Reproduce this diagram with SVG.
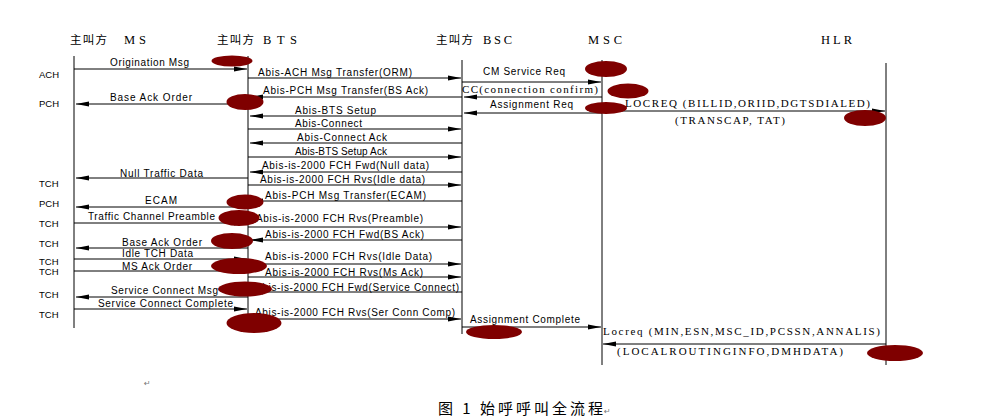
<svg xmlns="http://www.w3.org/2000/svg" width="997" height="420" viewBox="0 0 997 420">
<style>
.hdr{font-family:"Liberation Serif","Noto Sans CJK SC",serif;font-size:12.5px;fill:#000}
.cjk{font-family:"Noto Sans CJK SC","Liberation Serif",sans-serif;font-size:11.5px;fill:#000}
.ll{stroke:#000;stroke-width:1;fill:none}
.msg{stroke:#000;stroke-width:1;fill:none}
.arr{marker-end:url(#ah)}
.lbl{font-family:"Liberation Sans",Arial,sans-serif;font-size:10px;fill:#000}
.ser{font-family:"Liberation Serif","Times New Roman",serif;font-size:11px;fill:#000}
.ch{font-family:"Liberation Sans",Arial,sans-serif;font-size:9.5px;fill:#000}
.blob{fill:#7f0000}
.cap{font-family:"Noto Sans CJK SC","Liberation Sans",sans-serif;font-size:15px;fill:#000}
.pm{font-family:"DejaVu Sans",sans-serif;font-size:8px;fill:#777}
</style>
<defs>
<marker id="ah" markerUnits="userSpaceOnUse" markerWidth="13" markerHeight="6" refX="13" refY="3" orient="auto">
<path d="M0,0.5 L13,3 L0,5.5 Z" fill="#000"/>
</marker>
</defs>
<rect width="997" height="420" fill="#fff"/>

<g id="node-ms">
<text class="cjk" x="70" y="44" textLength="37" lengthAdjust="spacing">主叫方</text>
<text class="hdr" x="124" y="44" textLength="22" lengthAdjust="spacing">MS</text>
<line class="ll" x1="74" y1="56" x2="74" y2="328"/>
</g>
<g id="node-bts">
<text class="cjk" x="217" y="44" textLength="37" lengthAdjust="spacing">主叫方</text>
<text class="hdr" x="263" y="44" textLength="34" lengthAdjust="spacing">BTS</text>
<line class="ll" x1="248" y1="56" x2="248" y2="332"/>
</g>
<g id="node-bsc">
<text class="cjk" x="436" y="44" textLength="37" lengthAdjust="spacing">主叫方</text>
<text class="hdr" x="483" y="44" textLength="29" lengthAdjust="spacing">BSC</text>
<line class="ll" x1="462" y1="60" x2="462" y2="334"/>
</g>
<g id="node-msc">
<text class="hdr" x="588" y="44" textLength="34" lengthAdjust="spacing">MSC</text>
<line class="ll" x1="602" y1="60" x2="602" y2="365"/>
</g>
<g id="node-hlr">
<text class="hdr" x="821" y="44" textLength="31" lengthAdjust="spacing">HLR</text>
<line class="ll" x1="886" y1="63" x2="886" y2="365"/>
</g>

<g id="channels">
<text class="ch" x="39" y="78">ACH</text>
<text class="ch" x="39" y="107">PCH</text>
<text class="ch" x="39" y="187">TCH</text>
<text class="ch" x="39" y="207">PCH</text>
<text class="ch" x="39" y="227">TCH</text>
<text class="ch" x="39" y="247">TCH</text>
<text class="ch" x="39" y="265">TCH</text>
<text class="ch" x="39" y="275">TCH</text>
<text class="ch" x="39" y="298">TCH</text>
<text class="ch" x="39" y="318">TCH</text>
</g>

<g id="connectors">
<line class="msg arr" x1="74" y1="69" x2="247" y2="69"/>
<text class="lbl" x="110" y="66" textLength="79" lengthAdjust="spacing">Origination Msg</text>
<line class="msg arr" x1="248" y1="104" x2="76" y2="104"/>
<text class="lbl" x="110" y="101" textLength="82" lengthAdjust="spacing">Base Ack Order</text>
<line class="msg arr" x1="248" y1="178" x2="76" y2="178"/>
<text class="lbl" x="120" y="177" textLength="83" lengthAdjust="spacing">Null Traffic Data</text>
<line class="msg arr" x1="248" y1="207" x2="76" y2="207"/>
<text class="lbl" x="145" y="204" textLength="32" lengthAdjust="spacing">ECAM</text>
<line class="msg arr" x1="74" y1="223" x2="247" y2="223"/>
<text class="lbl" x="88" y="220" textLength="127" lengthAdjust="spacing">Traffic Channel Preamble</text>
<line class="msg arr" x1="248" y1="248" x2="76" y2="248"/>
<text class="lbl" x="122" y="246" textLength="80" lengthAdjust="spacing">Base Ack Order</text>
<line class="msg arr" x1="74" y1="259" x2="247" y2="259"/>
<text class="lbl" x="122" y="257" textLength="71" lengthAdjust="spacing">Idle TCH Data</text>
<line class="msg arr" x1="74" y1="271" x2="247" y2="271"/>
<text class="lbl" x="122" y="270" textLength="70" lengthAdjust="spacing">MS Ack Order</text>
<line class="msg arr" x1="248" y1="297" x2="76" y2="297"/>
<text class="lbl" x="111" y="294" textLength="107" lengthAdjust="spacing">Service Connect Msg</text>
<line class="msg arr" x1="74" y1="309" x2="247" y2="309"/>
<text class="lbl" x="98" y="307" textLength="135" lengthAdjust="spacing">Service Connect Complete</text>

<line class="msg arr" x1="248" y1="78" x2="461" y2="78"/>
<text class="lbl" x="258" y="76" textLength="154" lengthAdjust="spacing">Abis-ACH Msg Transfer(ORM)</text>
<line class="msg arr" x1="462" y1="97" x2="250" y2="97"/>
<text class="lbl" x="263" y="94" textLength="165" lengthAdjust="spacing">Abis-PCH Msg Transfer(BS Ack)</text>
<line class="msg arr" x1="462" y1="116" x2="250" y2="116"/>
<text class="lbl" x="295" y="114" textLength="81" lengthAdjust="spacing">Abis-BTS Setup</text>
<line class="msg arr" x1="248" y1="129" x2="461" y2="129"/>
<text class="lbl" x="295" y="127" textLength="67" lengthAdjust="spacing">Abis-Connect</text>
<line class="msg arr" x1="462" y1="143" x2="250" y2="143"/>
<text class="lbl" x="297" y="141" textLength="90" lengthAdjust="spacing">Abis-Connect Ack</text>
<line class="msg arr" x1="248" y1="157" x2="461" y2="157"/>
<text class="lbl" x="295" y="155" textLength="92" lengthAdjust="spacing">Abis-BTS Setup Ack</text>
<line class="msg arr" x1="462" y1="172" x2="250" y2="172"/>
<text class="lbl" x="262" y="169" textLength="167" lengthAdjust="spacing">Abis-is-2000 FCH Fwd(Null data)</text>
<line class="msg arr" x1="248" y1="185" x2="461" y2="185"/>
<text class="lbl" x="260" y="183" textLength="165" lengthAdjust="spacing">Abis-is-2000 FCH Rvs(Idle data)</text>
<line class="msg arr" x1="462" y1="201" x2="250" y2="201"/>
<text class="lbl" x="265" y="199" textLength="161" lengthAdjust="spacing">Abis-PCH Msg Transfer(ECAM)</text>
<line class="msg arr" x1="248" y1="227" x2="461" y2="227"/>
<text class="lbl" x="256" y="222" textLength="167" lengthAdjust="spacing">Abis-is-2000 FCH Rvs(Preamble)</text>
<line class="msg arr" x1="462" y1="240" x2="250" y2="240"/>
<text class="lbl" x="265" y="238" textLength="159" lengthAdjust="spacing">Abis-is-2000 FCH Fwd(BS Ack)</text>
<line class="msg arr" x1="248" y1="264" x2="461" y2="264"/>
<text class="lbl" x="265" y="260" textLength="167" lengthAdjust="spacing">Abis-is-2000 FCH Rvs(Idle Data)</text>
<line class="msg arr" x1="248" y1="277" x2="461" y2="277"/>
<text class="lbl" x="265" y="276" textLength="158" lengthAdjust="spacing">Abis-is-2000 FCH Rvs(Ms Ack)</text>
<line class="msg arr" x1="462" y1="292" x2="250" y2="292"/>
<text class="lbl" x="255" y="291" textLength="204" lengthAdjust="spacing">Abis-is-2000 FCH Fwd(Service Connect)</text>
<line class="msg arr" x1="248" y1="319" x2="461" y2="319"/>
<text class="lbl" x="255" y="316" textLength="200" lengthAdjust="spacing">Abis-is-2000 FCH Rvs(Ser Conn Comp)</text>

<line class="msg arr" x1="462" y1="82" x2="601" y2="82"/>
<text class="lbl" x="483" y="75" textLength="82" lengthAdjust="spacing">CM Service Req</text>
<line class="msg arr" x1="602" y1="97" x2="464" y2="97"/>
<text class="ser" x="462" y="93" textLength="136" lengthAdjust="spacing">CC(connection confirm)</text>
<line class="msg arr" x1="602" y1="113" x2="464" y2="113"/>
<text class="lbl" x="490" y="108" textLength="83" lengthAdjust="spacing">Assignment Req</text>
<line class="msg arr" x1="462" y1="327" x2="601" y2="327"/>
<text class="lbl" x="470" y="323" textLength="110" lengthAdjust="spacing">Assignment Complete</text>

<line class="msg arr" x1="602" y1="111" x2="885" y2="111"/>
<text class="ser" x="625" y="107" textLength="245" lengthAdjust="spacing">LOCREQ (BILLID,ORIID,DGTSDIALED)</text>
<text class="ser" x="675" y="124" textLength="110" lengthAdjust="spacing">(TRANSCAP, TAT)</text>
<text class="ser" x="603" y="335" textLength="277" lengthAdjust="spacing">Locreq (MIN,ESN,MSC_ID,PCSSN,ANNALIS)</text>
<line class="msg arr" x1="886" y1="344" x2="603" y2="344"/>
<text class="ser" x="617" y="355" textLength="226" lengthAdjust="spacing">(LOCALROUTINGINFO,DMHDATA)</text>
</g>

<g id="marks">
<ellipse class="blob" cx="232" cy="61" rx="20.5" ry="5.5"/>
<ellipse class="blob" cx="245" cy="102" rx="18.5" ry="8"/>
<ellipse class="blob" cx="245" cy="202" rx="18.5" ry="7.5"/>
<ellipse class="blob" cx="239" cy="218" rx="20.5" ry="8"/>
<ellipse class="blob" cx="232" cy="241" rx="21" ry="8"/>
<ellipse class="blob" cx="239" cy="266" rx="28" ry="8"/>
<ellipse class="blob" cx="245" cy="289" rx="27" ry="7.5"/>
<ellipse class="blob" cx="254" cy="323" rx="27.5" ry="10"/>
<ellipse class="blob" cx="606" cy="69" rx="21" ry="8"/>
<ellipse class="blob" cx="628" cy="91" rx="20.5" ry="7.5"/>
<ellipse class="blob" cx="606" cy="108" rx="21" ry="6"/>
<ellipse class="blob" cx="865" cy="118" rx="21" ry="8"/>
<ellipse class="blob" cx="494" cy="332" rx="28" ry="7"/>
<ellipse class="blob" cx="895" cy="353" rx="28" ry="8"/>
</g>

<g id="caption">
<text class="pm" x="144" y="386">↵</text>
<text class="cap" x="438" y="414" textLength="165" lengthAdjust="spacing">图 1 始呼呼叫全流程</text>
<text class="pm" x="604" y="414">↵</text>
</g>
</svg>
